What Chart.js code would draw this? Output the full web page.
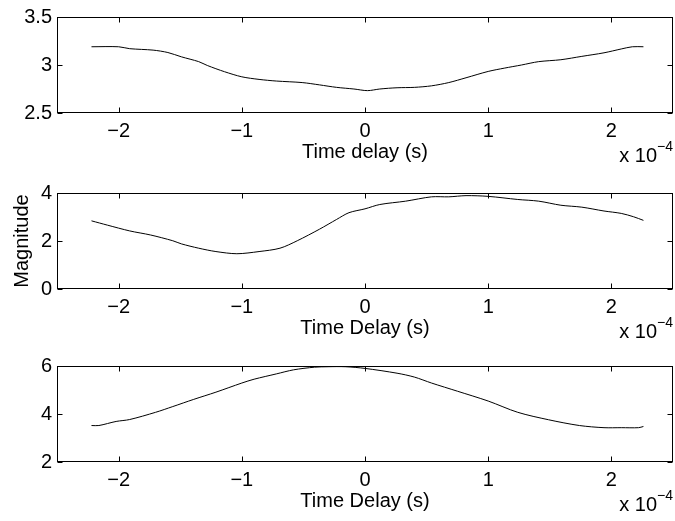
<!DOCTYPE html>
<html lang="en">
<head>
    <meta charset="UTF-8">
    <title>Time delay magnitude</title>
    <script src="https://cdn.jsdelivr.net/npm/chart.js"></script>
    <style>
        body {
            margin: 0;
            background-color: #fff;
        }
        .wrap {
            position: relative;
            width: 675px;
            height: 521px;
            background-color: #fff;
        }
        .wrap canvas {
            position: absolute;
            left: 0;
        }
    </style>
</head>
<body>
    <div class="wrap">
        <canvas id="chartTop" width="675" height="171" style="top:0px"></canvas>
        <canvas id="chartMid" width="675" height="171" style="top:176px"></canvas>
        <canvas id="chartBot" width="675" height="171" style="top:349px"></canvas>
    </div>

    <script>
        // time delay in units of 1e-4 s
        const xTicks = [-2, -1, 0, 1, 2];

        const topDelay = [-2.22, -2.0, -1.91, -1.72, -1.60, -1.49, -1.35, -1.28, -1.14, -1.0, -0.86, -0.72, -0.51, -0.37, -0.23, -0.09, 0.02, 0.12, 0.26, 0.40, 0.54, 0.68, 0.82, 1.0, 1.13, 1.27, 1.41, 1.59, 1.76, 1.94, 2.08, 2.17, 2.26];
        const topValues = [3.19, 3.19, 3.17, 3.155, 3.13, 3.085, 3.035, 2.995, 2.93, 2.877, 2.85, 2.833, 2.817, 2.793, 2.767, 2.75, 2.733, 2.75, 2.763, 2.767, 2.783, 2.817, 2.867, 2.933, 2.967, 3.0, 3.035, 3.055, 3.09, 3.127, 3.167, 3.19, 3.19];
        const topTicks = [2.5, 3, 3.5];

        const midDelay = [-2.22, -2.09, -1.91, -1.74, -1.56, -1.49, -1.35, -1.21, -1.04, -0.86, -0.69, -0.55, -0.37, -0.23, -0.13, 0.0, 0.12, 0.33, 0.54, 0.68, 0.82, 1.0, 1.24, 1.41, 1.59, 1.76, 1.94, 2.08, 2.18, 2.26];
        const midValues = [2.84, 2.66, 2.42, 2.25, 2.01, 1.88, 1.70, 1.56, 1.47, 1.56, 1.70, 2.01, 2.49, 2.90, 3.18, 3.34, 3.52, 3.66, 3.84, 3.84, 3.89, 3.86, 3.73, 3.66, 3.49, 3.41, 3.25, 3.15, 3.01, 2.86];
        const midTicks = [0, 2, 4];

        const botDelay = [-2.22, -2.16, -2.02, -1.91, -1.70, -1.56, -1.39, -1.21, -1.0, -0.90, -0.72, -0.58, -0.41, -0.30, -0.16, 0.0, 0.26, 0.40, 0.54, 0.75, 1.0, 1.24, 1.49, 1.74, 1.94, 2.08, 2.22, 2.26];
        const botValues = [3.52, 3.52, 3.69, 3.77, 4.07, 4.31, 4.61, 4.91, 5.29, 5.45, 5.67, 5.84, 5.95, 5.97, 5.97, 5.90, 5.70, 5.54, 5.29, 4.95, 4.54, 4.07, 3.76, 3.52, 3.43, 3.43, 3.43, 3.48];
        const botTicks = [2, 4, 6];

        const FONT = '"Liberation Sans", Arial, sans-serif';
        const FSIZE = 20;

        function fmt(v) {
            return String(v).replace('-', '\u2212');
        }

        // matlab style box, inward ticks and the x 10^-4 note
        const matlabBox = {
            id: 'matlabBox',
            afterDraw(chart) {
                const { ctx, chartArea: a, scales } = chart;
                const l = Math.round(a.left) + 0.5, t = Math.round(a.top) + 0.5;
                const r = Math.round(a.right) - 0.5, b = Math.round(a.bottom) - 0.5;
                ctx.save();
                ctx.strokeStyle = '#000';
                ctx.lineWidth = 1;
                ctx.strokeRect(l, t, r - l, b - t);
                ctx.beginPath();
                scales.x.ticks.forEach(tk => {
                    const px = Math.round(scales.x.getPixelForValue(tk.value)) + 0.5;
                    ctx.moveTo(px, t); ctx.lineTo(px, t + 5);
                    ctx.moveTo(px, b); ctx.lineTo(px, b - 5);
                });
                scales.y.ticks.forEach(tk => {
                    const py = Math.round(scales.y.getPixelForValue(tk.value)) + 0.5;
                    ctx.moveTo(l, py); ctx.lineTo(l + 5, py);
                    ctx.moveTo(r, py); ctx.lineTo(r - 5, py);
                });
                ctx.stroke();

                ctx.fillStyle = '#000';
                ctx.textAlign = 'right';
                ctx.textBaseline = 'alphabetic';
                ctx.font = '14px ' + FONT;
                const sup = '\u22124';
                const supW = ctx.measureText(sup).width;
                ctx.fillText(sup, 673, a.bottom + 38);
                ctx.font = FSIZE + 'px ' + FONT;
                ctx.fillText('x 10', 673 - supW, a.bottom + 49);
                ctx.restore();
            }
        };

        function makeChart(id, xs, ys, yMin, yMax, yTicks, xTitle, yTitle) {
            const points = xs.map((x, i) => ({ x: x, y: ys[i] }));
            return new Chart(document.getElementById(id), {
                type: 'line',
                data: {
                    datasets: [{
                        data: points,
                        borderColor: '#000',
                        borderWidth: 1,
                        pointRadius: 0,
                        tension: 0.3,
                        fill: false
                    }]
                },
                options: {
                    responsive: false,
                    animation: false,
                    events: [],
                    layout: { padding: { top: 15, right: 2, left: 0, bottom: 0 } },
                    plugins: { legend: { display: false }, tooltip: { enabled: false } },
                    scales: {
                        x: {
                            type: 'linear',
                            min: -2.5,
                            max: 2.5,
                            afterBuildTicks: s => { s.ticks = xTicks.map(v => ({ value: v })); },
                            afterFit: s => { s.height = 58; },
                            grid: { display: false, drawTicks: false },
                            border: { display: false },
                            ticks: {
                                padding: 6,
                                color: '#000',
                                font: { family: FONT, size: FSIZE },
                                callback: v => fmt(v)
                            },
                            title: {
                                display: true,
                                text: xTitle,
                                color: '#000',
                                font: { family: FONT, size: FSIZE },
                                padding: { top: 0, bottom: 7 }
                            }
                        },
                        y: {
                            min: yMin,
                            max: yMax,
                            afterBuildTicks: s => { s.ticks = yTicks.map(v => ({ value: v })); },
                            afterFit: s => { s.width = 57; },
                            grid: { display: false, drawTicks: false },
                            border: { display: false },
                            ticks: {
                                padding: 5,
                                color: '#000',
                                font: { family: FONT, size: FSIZE },
                                callback: v => fmt(v)
                            },
                            title: {
                                display: !!yTitle,
                                text: yTitle || '',
                                color: '#000',
                                font: { family: FONT, size: FSIZE },
                                padding: { top: 10, bottom: 0 }
                            }
                        }
                    }
                },
                plugins: [matlabBox]
            });
        }

        makeChart('chartTop', topDelay, topValues, 2.5, 3.5, topTicks, 'Time delay (s)', null);
        makeChart('chartMid', midDelay, midValues, 0, 4, midTicks, 'Time Delay (s)', 'Magnitude');
        makeChart('chartBot', botDelay, botValues, 2, 6, botTicks, 'Time Delay (s)', null);
    </script>
</body>
</html>
